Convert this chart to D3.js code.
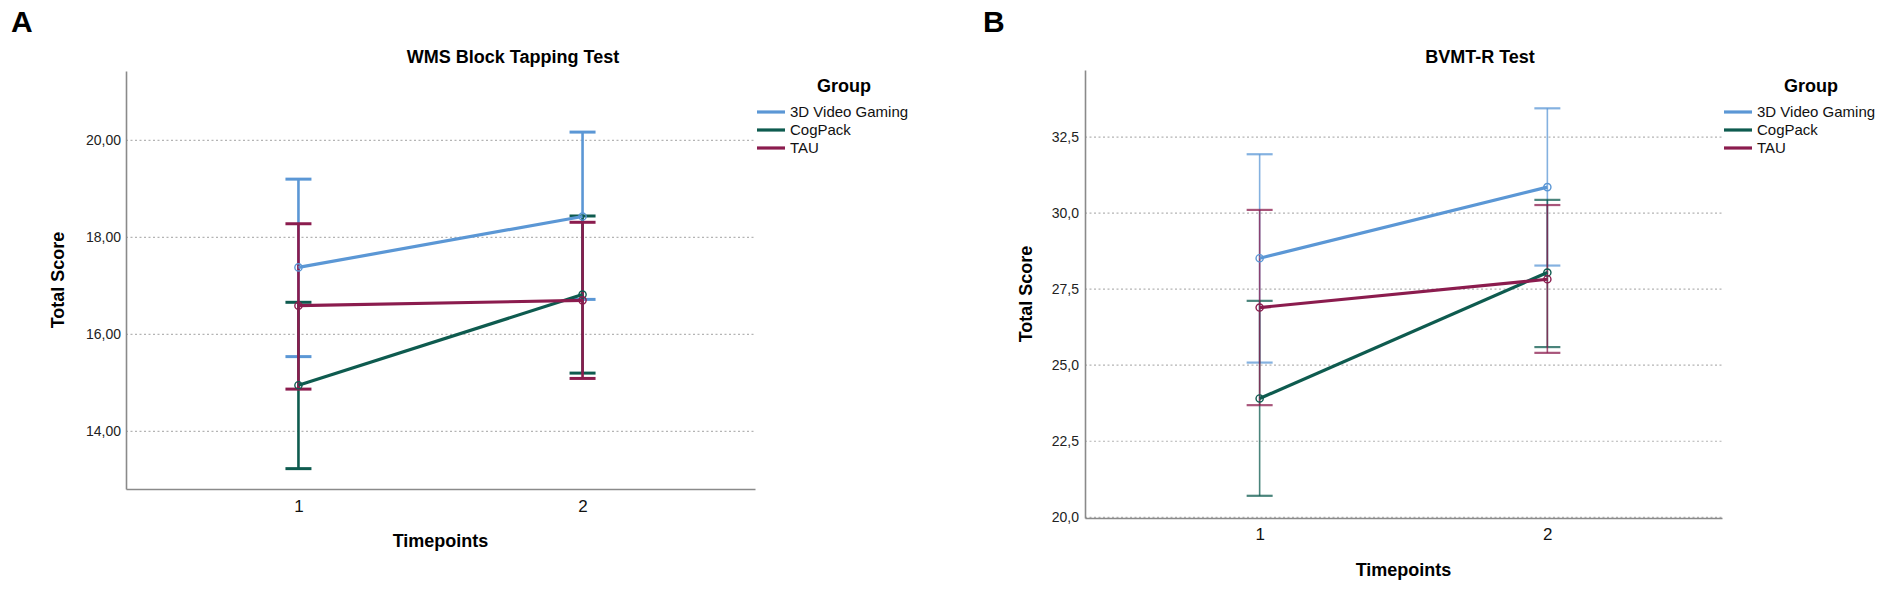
<!DOCTYPE html>
<html>
<head>
<meta charset="utf-8">
<script src="https://cdn.jsdelivr.net/npm/d3@7"></script>
<style>
  html, body { margin: 0; padding: 0; background: #fff; }
  svg { display: block; font-family: "Liberation Sans", Arial, Helvetica, sans-serif; }
</style>
</head>
<body>
<svg id="chart" width="1901" height="592"></svg>
<script>
// ---------- data ----------
const timepoints = ["1", "2"];
const groups = ["3D Video Gaming", "CogPack", "TAU"];
const groupColors = ["#5b97d5", "#0e5b4f", "#8b1c4e"];

// Panel A: WMS Block Tapping Test (mean, lower CI, upper CI)
const wmsGaming   = [17.37, 18.42];
const wmsGamingLo = [15.53, 16.71];
const wmsGamingHi = [19.19, 20.16];
const wmsCogPack   = [14.94, 16.81];
const wmsCogPackLo = [13.22, 15.19];
const wmsCogPackHi = [16.65, 18.43];
const wmsTAU   = [16.58, 16.69];
const wmsTAULo = [14.86, 15.08];
const wmsTAUHi = [18.27, 18.30];
const wmsTicks = [14, 16, 18, 20];
const wmsTickLabels = ["14,00", "16,00", "18,00", "20,00"];

// Panel B: BVMT-R Test
const bvmtGaming   = [28.50, 30.84];
const bvmtGamingLo = [25.07, 28.26];
const bvmtGamingHi = [31.92, 33.43];
const bvmtCogPack   = [23.89, 28.03];
const bvmtCogPackLo = [20.69, 25.58];
const bvmtCogPackHi = [27.10, 30.42];
const bvmtTAU   = [26.88, 27.81];
const bvmtTAULo = [23.67, 25.39];
const bvmtTAUHi = [30.09, 30.25];
const bvmtTicks = [20, 22.5, 25, 27.5, 30, 32.5];
const bvmtTickLabels = ["20,0", "22,5", "25,0", "27,5", "30,0", "32,5"];

// ---------- drawing ----------
const svg = d3.select("#chart");
svg.append("rect").attr("width", 1901).attr("height", 592).attr("fill", "#fff");

function panel(cfg) {
  const g = svg.append("g");
  const x = d3.scalePoint().domain(timepoints).range([cfg.left, cfg.right]).padding(0.607);
  const y = d3.scaleLinear().domain(cfg.domain).range([cfg.bottom, cfg.top]);

  // panel letter
  g.append("text").attr("x", cfg.letterX).attr("y", 32)
    .attr("font-size", 30).attr("font-weight", "bold").attr("fill", "#000").text(cfg.letter);

  // title
  g.append("text").attr("x", cfg.titleX).attr("y", 63).attr("text-anchor", "middle")
    .attr("font-size", 18).attr("font-weight", "bold").attr("fill", "#000").text(cfg.title);

  // gridlines
  const grid = g.append("g").attr("transform", `translate(${cfg.left},0)`)
    .call(d3.axisLeft(y).tickValues(cfg.ticks).tickSize(-(cfg.right - cfg.left)).tickFormat(""));
  grid.select(".domain").remove();
  grid.selectAll(".tick line").attr("stroke", "#b4b4b4").attr("stroke-width", 1.2)
    .attr("stroke-dasharray", "2,2.5");

  // y axis
  const ya = g.append("g").attr("transform", `translate(${cfg.left},0)`)
    .call(d3.axisLeft(y).tickValues(cfg.ticks).tickSize(0).tickSizeOuter(0).tickPadding(cfg.yPad)
      .tickFormat((d, i) => cfg.tickLabels[i]));
  ya.select(".domain").attr("stroke", "#8a8a8a").attr("stroke-width", 1.6);
  ya.selectAll("text").attr("font-size", 14).attr("fill", "#222");

  // x axis
  const xa = g.append("g").attr("transform", `translate(0,${cfg.bottom})`)
    .call(d3.axisBottom(x).tickSize(0).tickSizeOuter(0).tickPadding(cfg.xPad));
  xa.select(".domain").attr("stroke", "#8a8a8a").attr("stroke-width", 1.6);
  xa.selectAll("text").attr("font-size", 17).attr("fill", "#111");

  // axis titles
  g.append("text").attr("x", (cfg.left + cfg.right) / 2).attr("y", cfg.xTitleY)
    .attr("text-anchor", "middle").attr("font-size", 18).attr("font-weight", "bold")
    .attr("fill", "#000").text("Timepoints");
  g.append("text")
    .attr("transform", `translate(${cfg.yTitleX},${(cfg.top + cfg.bottom) / 2}) rotate(-90)`)
    .attr("text-anchor", "middle").attr("dy", "0.35em").attr("font-size", 18)
    .attr("font-weight", "bold").attr("fill", "#000").text("Total Score");

  // series
  const cap = 13;
  cfg.series.forEach((s, gi) => {
    const col = groupColors[gi];
    const sg = g.append("g");
    // error bars
    timepoints.forEach((t, i) => {
      const cx = x(t);
      sg.append("line").attr("x1", cx).attr("x2", cx).attr("y1", y(s.lo[i])).attr("y2", y(s.hi[i]))
        .attr("stroke", col).attr("stroke-width", cfg.ebWidth).attr("stroke-opacity", cfg.ebOpacity);
      [s.lo[i], s.hi[i]].forEach(v => {
        sg.append("line").attr("x1", cx - cap).attr("x2", cx + cap).attr("y1", y(v)).attr("y2", y(v))
          .attr("stroke", col).attr("stroke-width", cfg.capWidth).attr("stroke-opacity", cfg.ebOpacity);
      });
    });
  });
  cfg.series.forEach((s, gi) => {
    const col = groupColors[gi];
    const line = d3.line().x((d, i) => x(timepoints[i])).y(d => y(d));
    g.append("path").datum(s.mean).attr("d", line).attr("fill", "none")
      .attr("stroke", col).attr("stroke-width", 3.2);
    g.selectAll(null).data(s.mean).enter().append("circle")
      .attr("cx", (d, i) => x(timepoints[i])).attr("cy", d => y(d)).attr("r", 3.6)
      .attr("fill", "none").attr("stroke", col).attr("stroke-width", 1.4);
  });

  // legend
  const lg = g.append("g");
  lg.append("text").attr("x", cfg.right + 62).attr("y", 92).attr("font-size", 18)
    .attr("font-weight", "bold").attr("fill", "#000").text("Group");
  groups.forEach((name, i) => {
    const ly = 112 + i * 18;
    lg.append("line").attr("x1", cfg.right + 2).attr("x2", cfg.right + 30).attr("y1", ly).attr("y2", ly)
      .attr("stroke", groupColors[i]).attr("stroke-width", 3.2);
    lg.append("text").attr("x", cfg.right + 35).attr("y", ly).attr("dy", "0.35em")
      .attr("font-size", 15).attr("fill", "#111").text(name);
  });
}

panel({
  letter: "A", letterX: 11, title: "WMS Block Tapping Test", titleX: 513,
  left: 126, right: 755, top: 71, bottom: 489, domain: [12.8, 21.42],
  ticks: wmsTicks, tickLabels: wmsTickLabels, yPad: 5, xPad: 11,
  xTitleY: 547, yTitleX: 58, ebWidth: 2.6, capWidth: 3, ebOpacity: 1,
  series: [
    { mean: wmsGaming, lo: wmsGamingLo, hi: wmsGamingHi },
    { mean: wmsCogPack, lo: wmsCogPackLo, hi: wmsCogPackHi },
    { mean: wmsTAU, lo: wmsTAULo, hi: wmsTAUHi }
  ]
});

panel({
  letter: "B", letterX: 983, title: "BVMT-R Test", titleX: 1480,
  left: 1085, right: 1722, top: 70, bottom: 518, domain: [19.96, 34.69],
  ticks: bvmtTicks, tickLabels: bvmtTickLabels, yPad: 6, xPad: 10,
  xTitleY: 576, yTitleX: 1026, ebWidth: 1.6, capWidth: 2.2, ebOpacity: 0.75,
  series: [
    { mean: bvmtGaming, lo: bvmtGamingLo, hi: bvmtGamingHi },
    { mean: bvmtCogPack, lo: bvmtCogPackLo, hi: bvmtCogPackHi },
    { mean: bvmtTAU, lo: bvmtTAULo, hi: bvmtTAUHi }
  ]
});
</script>
</body>
</html>
